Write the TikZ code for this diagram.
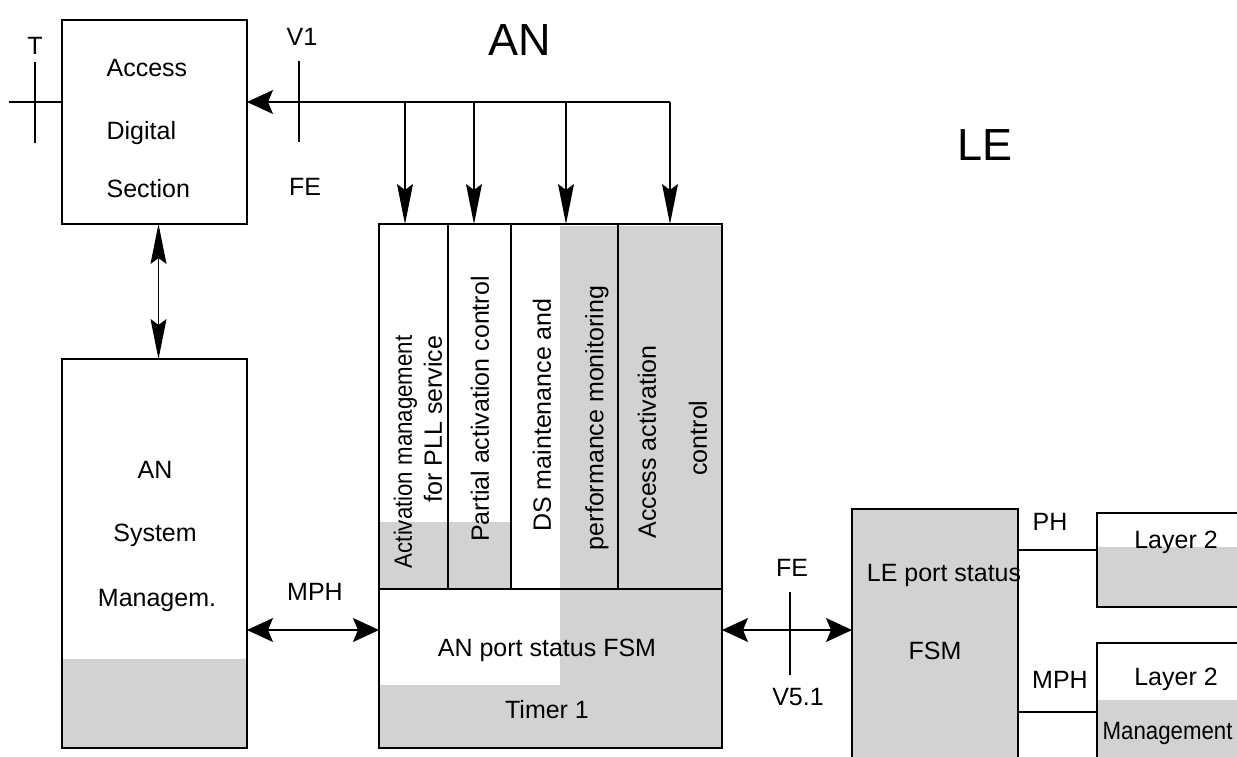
\documentclass[tikz,border=0pt]{standalone}
\usepackage{fontspec}
\setmainfont{Liberation Sans}
\usetikzlibrary{arrows.meta,positioning}
\definecolor{dotgray}{RGB}{210,210,210}
\tikzset{%
	block/.style   = {draw, rectangle, anchor=north west, inner sep=0pt, outer sep=0pt},
	txt/.style     = {inner sep=0pt, font=\fontsize{25}{30}\selectfont},
	bigtxt/.style  = {inner sep=0pt, font=\fontsize{45}{50}\selectfont},
	coltxt/.style  = {txt, rotate=90},
	dotfill/.style = {fill=dotgray},
	htip/.tip      = {Stealth[length=26pt,width=24pt,inset=5pt]},
	vtip/.tip      = {Stealth[length=40pt,width=16pt,inset=6pt]},
	harrow/.style  = {-htip},
	hdarrow/.style = {htip-htip},
	varrow/.style  = {-vtip},
	vdarrow/.style = {vtip-vtip},
}

\begin{document}
\begin{tikzpicture}[x=1pt,y=-1pt,line width=1.2pt]
	\useasboundingbox (0,0) rectangle (1237,756);
	\clip (0,0) rectangle (1237,756);
	
	\fill[dotfill] (63,659) rectangle (246,747);
	\fill[dotfill] (380,522) rectangle (511,589);
	\fill[dotfill] (560,226) -- (721,226) -- (721,747) -- (380,747) -- (380,685) -- (560,685) -- cycle;
	\fill[dotfill] (852,509) rectangle (1018,770);
	\fill[dotfill] (1098,547) rectangle (1250,607);
	\fill[dotfill] (1098,700) rectangle (1250,770);
	
	\node[block, minimum width=185pt, minimum height=204pt] (ads) at (62,20) {};
	\node[block, minimum width=185pt, minimum height=389pt] (ansm) at (62,359) {};
	\node[block, minimum width=343pt, minimum height=524pt] (anb) at (379,224) {};
	\node[block, minimum width=166pt, minimum height=270pt] (lefsm) at (852,509) {};
	\node[block, minimum width=170pt, minimum height=94pt] (ltwoa) at (1097,513) {};
	\node[block, minimum width=170pt, minimum height=140pt] (ltwob) at (1097,643) {};
	
	\coordinate (mid) at (0,589);
	\draw (anb.west |- mid) -- (anb.east |- mid);
	\foreach \x in {448,511,618} \draw (anb.north -| \x,0) -- (mid -| \x,0);
	
	\node[txt, anchor=west] (access) at (106,68) {Access};
	\node[txt, anchor=west] (digital) at (106,133) {Digital};
	\node[txt, anchor=west] (section) at (106,189) {Section};
	
	\node[txt] (an) at (155,470) {AN};
	\node[txt] (system) at (155,535) {System};
	\node[txt] (managem) at (157,600) {Managem.};
	
	\node[bigtxt] (anlabel) at (520,40) {AN};
	\node[bigtxt] (lelabel) at (985,145) {LE};
	
	\node[coltxt, anchor=east, align=right] (actmgmt) at (418,335) {\scalebox{0.89}[1]{Activation management}\\for PLL service};
	\node[coltxt] (partial) at (480,409) {Partial activation control};
	\node[coltxt] (dsmaint) at (542,415) {DS maintenance and};
	\node[coltxt] (perfmon) at (597,418) {performance monitoring};
	\node[coltxt] (accact) at (647,442) {Access activation};
	\node[coltxt] (accctl) at (698,438) {control};
	
	\node[txt] (anport) at (547,650) {AN port status FSM};
	\node[txt] (timer) at (547,710) {Timer 1};
	
	\node[txt] (leport) at (944,575) {LE port status};
	\node[txt] (lefsmtxt) at (935,651) {FSM};
	\node[txt] (ltwoatxt) at (1176,542) {Layer 2};
	\node[txt] (ltwobtxt) at (1176,679) {Layer 2};
	\node[txt, anchor=west] (mgmt) at (1102,733) {\scalebox{0.89}[1]{Management}};
	
	% reference points and interfaces
	\node[txt] (tlabel) at (35,46) {T};
	\node[txt] (vone) at (302,37) {V1};
	\node[txt] (feone) at (305,187) {FE};
	\node[txt] (mphone) at (315,592) {MPH};
	\node[txt] (fetwo) at (792,568) {FE};
	\node[txt] (vfive) at (798,697) {V5.1};
	\node[txt] (ph) at (1050,522) {PH};
	\node[txt] (mphtwo) at (1060,680) {MPH};
	
	\coordinate (tend) at (9,102);
	\coordinate (busend) at (670,102);
	\draw (tend) -- (ads.west |- tend);
	\draw (35,62) -- (35,143);
	\draw (299,61) -- (299,142);
	\draw[harrow] (busend) -- (ads.east |- busend);
	\foreach \x in {405,474,566,670} \draw[varrow] (\x,102) -- (anb.north -| \x,0);
	
	\draw[vdarrow] ([xshift=4pt]ads.south) -- ([xshift=4pt]ansm.north);
	
	\coordinate (link) at (0,630);
	\draw[hdarrow] (ansm.east |- link) -- (anb.west |- link);
	\draw[hdarrow] (anb.east |- link) -- (lefsm.west |- link);
	\draw (790,592) -- (790,675);
	
	\coordinate (phy) at (0,550);
	\coordinate (mphy) at (0,712);
	\draw (lefsm.east |- phy) -- (ltwoa.west |- phy);
	\draw (lefsm.east |- mphy) -- (ltwob.west |- mphy);
\end{tikzpicture}
\end{document}
